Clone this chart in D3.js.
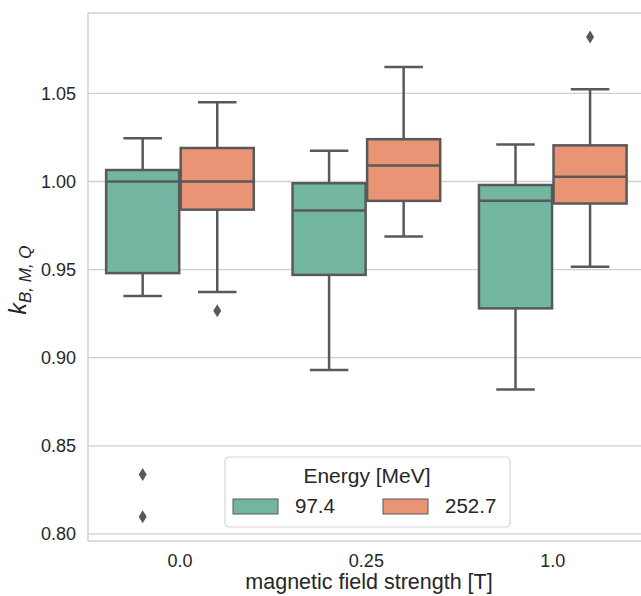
<!DOCTYPE html>
<html>
<head>
<meta charset="utf-8">
<script src="https://cdn.jsdelivr.net/npm/d3@7"></script>
<style>
  body { margin: 0; background: #fff; }
  text { font-family: "Liberation Sans", Arial, sans-serif; fill: #262626; }
</style>
</head>
<body>
<div id="container"></div>
<script>
let w = 641;
let h = 596;

// data
let fields = ["0.0", "0.25", "1.0"];
let energies = ["97.4", "252.7"];
// [whisker low, q1, median, q3, whisker high] per field, one list per energy
let stats974 = [
    [0.935, 0.948, 1.000, 1.0065, 1.0245],
    [0.893, 0.947, 0.9835, 0.999, 1.0175],
    [0.882, 0.928, 0.989, 0.998, 1.021]
];
let stats2527 = [
    [0.9373, 0.984, 1.000, 1.019, 1.045],
    [0.9688, 0.989, 1.009, 1.024, 1.065],
    [0.9516, 0.9875, 1.0027, 1.0205, 1.0524]
];
let outliers974 = [[0.8337, 0.8097], [], []];
let outliers2527 = [[0.9267], [], [1.082]];
let yTicks = [0.80, 0.85, 0.90, 0.95, 1.00, 1.05];

let colors = ["#72b6a1", "#e99575"];
let lineGray = "#595959";
let gridGray = "#d0d0d0";

let pLeft = 88, pRight = 646, pTop = 13, pBottom = 541;

let viz = d3.select("#container").append("svg")
    .attr("width", w)
    .attr("height", h)
    .style("display", "block")
    .style("background-color", "white");

let x = d3.scaleBand().domain(fields).range([pLeft - 1.25, pRight]).padding(0);
let xHue = d3.scaleBand().domain(energies).range([0, x.bandwidth() * 0.8]).padding(0);
let y = d3.scaleLinear().domain([0.796, 1.0956]).range([pBottom, pTop]);

// grid
viz.append("g").selectAll("line").data(yTicks).enter()
    .append("line")
    .attr("x1", pLeft).attr("x2", pRight)
    .attr("y1", d => y(d)).attr("y2", d => y(d))
    .attr("stroke", gridGray).attr("stroke-width", 1.3);

// spines
viz.append("line").attr("x1", pLeft).attr("x2", pLeft).attr("y1", pTop).attr("y2", pBottom)
    .attr("stroke", gridGray).attr("stroke-width", 1.5);
viz.append("line").attr("x1", pLeft).attr("x2", pRight).attr("y1", pTop).attr("y2", pTop)
    .attr("stroke", gridGray).attr("stroke-width", 1.5);
viz.append("line").attr("x1", pLeft).attr("x2", pRight).attr("y1", pBottom).attr("y2", pBottom)
    .attr("stroke", gridGray).attr("stroke-width", 1.5);

// y axis
let yAxis = d3.axisLeft(y).tickValues(yTicks).tickFormat(d3.format(".2f")).tickSize(0).tickPadding(12);
let yg = viz.append("g").attr("transform", "translate(" + pLeft + ",0)").call(yAxis);
yg.select(".domain").remove();
yg.selectAll("text").style("font-size", "18px").attr("fill", "#262626")
    .style("font-family", "'Liberation Sans', Arial, sans-serif");

// x axis
let xAxis = d3.axisBottom(x).tickSize(0).tickPadding(13);
let xg = viz.append("g").attr("transform", "translate(0," + pBottom + ")").call(xAxis);
xg.select(".domain").remove();
xg.selectAll("text").style("font-size", "18px").attr("fill", "#262626")
    .style("font-family", "'Liberation Sans', Arial, sans-serif");

// boxes
let boxes = [];
fields.forEach((f, i) => {
    boxes.push({field: f, hue: 0, s: stats974[i], out: outliers974[i]});
    boxes.push({field: f, hue: 1, s: stats2527[i], out: outliers2527[i]});
});

let bw = xHue.bandwidth() * 0.98;
let groups = viz.append("g").selectAll(".box").data(boxes).enter()
    .append("g")
    .attr("class", "box")
    .attr("transform", d => {
        let cx = x(d.field) + x.bandwidth() * 0.1 + xHue(energies[d.hue]) + xHue.bandwidth() / 2;
        return "translate(" + cx + ",0)";
    });

// whiskers
groups.append("line")
    .attr("x1", 0).attr("x2", 0)
    .attr("y1", d => y(d.s[0])).attr("y2", d => y(d.s[1]))
    .attr("stroke", lineGray).attr("stroke-width", 2.5);
groups.append("line")
    .attr("x1", 0).attr("x2", 0)
    .attr("y1", d => y(d.s[3])).attr("y2", d => y(d.s[4]))
    .attr("stroke", lineGray).attr("stroke-width", 2.5);
// caps
groups.selectAll(".cap").data(d => [d.s[0], d.s[4]]).enter()
    .append("line")
    .attr("class", "cap")
    .attr("x1", -bw / 4 - 1).attr("x2", bw / 4 + 1)
    .attr("y1", d => y(d)).attr("y2", d => y(d))
    .attr("stroke", lineGray).attr("stroke-width", 2.5);
// box body
groups.append("rect")
    .attr("x", -bw / 2)
    .attr("width", bw)
    .attr("y", d => y(d.s[3]))
    .attr("height", d => y(d.s[1]) - y(d.s[3]))
    .attr("fill", d => colors[d.hue])
    .attr("stroke", lineGray).attr("stroke-width", 2.5);
// median
groups.append("line")
    .attr("x1", -bw / 2).attr("x2", bw / 2)
    .attr("y1", d => y(d.s[2])).attr("y2", d => y(d.s[2]))
    .attr("stroke", lineGray).attr("stroke-width", 2.5);
// outliers as thin diamonds
groups.selectAll(".flier").data(d => d.out).enter()
    .append("path")
    .attr("class", "flier")
    .attr("d", d => {
        let cy = y(d);
        return "M0," + (cy - 6.5) + "L4," + cy + "L0," + (cy + 6.5) + "L-4," + cy + "Z";
    })
    .attr("fill", lineGray);

// axis labels
viz.append("text")
    .attr("x", (pLeft + pRight) / 2 + 2)
    .attr("y", 589)
    .attr("text-anchor", "middle")
    .style("font-size", "21.5px")
    .text("magnetic field strength [T]");

let ylab = viz.append("text")
    .attr("transform", "translate(26,280) rotate(-90)")
    .attr("text-anchor", "middle")
    .style("font-style", "italic");
ylab.append("tspan").style("font-size", "23px").text("k");
ylab.append("tspan").attr("dy", 5).style("font-size", "17px").text("B, M, Q");

// legend
let legend = viz.append("g").attr("transform", "translate(225,457)");
legend.append("rect")
    .attr("width", 285).attr("height", 70)
    .attr("rx", 4)
    .attr("fill", "white").attr("fill-opacity", 0.8)
    .attr("stroke", "#d6d6d6").attr("stroke-width", 1.2);
legend.append("text")
    .attr("x", 142).attr("y", 26)
    .attr("text-anchor", "middle")
    .style("font-size", "21px")
    .text("Energy [MeV]");
let items = legend.selectAll(".item").data(energies).enter()
    .append("g")
    .attr("class", "item")
    .attr("transform", (d, i) => "translate(" + (8 + i * 150) + ",42)");
items.append("rect")
    .attr("width", 45).attr("height", 15)
    .attr("fill", (d, i) => colors[i])
    .attr("stroke", lineGray).attr("stroke-width", 1);
items.append("text")
    .attr("x", 62).attr("y", 14)
    .style("font-size", "20.5px")
    .text(d => d);
</script>
</body>
</html>
